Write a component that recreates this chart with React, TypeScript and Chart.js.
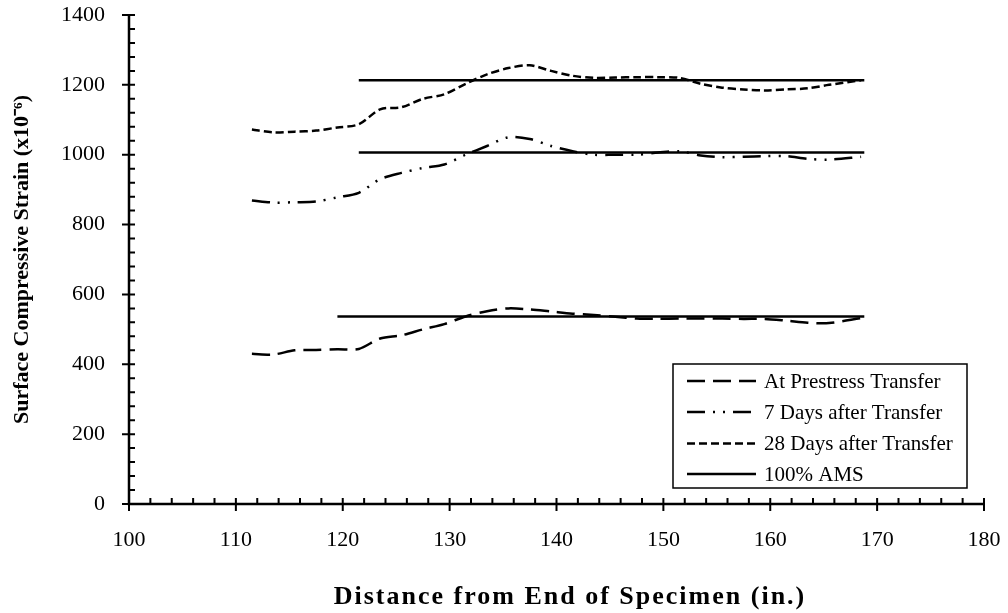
import { useEffect, useRef } from "react";
import { Chart, registerables } from "chart.js";

Chart.register(...registerables);

// Distance from end of specimen (in.)
const distance = [111.5, 113.5, 115.5, 117.5, 119.5, 121.5, 123.5, 125.5, 127.5, 129.5, 131.5, 133.5, 135.5, 137.5, 139.5, 141.5, 143.5, 145.5, 147.5, 149.5, 151.5, 153.5, 155.5, 157.5, 159.5, 161.5, 163.5, 165.5, 168.5];

// Surface compressive strain (x10^-6)
const atTransfer = [430, 428, 440, 441, 443, 444, 474, 483, 500, 515, 537, 552, 560, 557, 551, 545, 541, 536, 531, 530, 531, 531, 531, 530, 530, 525, 519, 518, 532];
const days7 = [869, 863, 864, 866, 878, 891, 930, 948, 962, 972, 1000, 1025, 1050, 1045, 1025, 1010, 1000, 1000, 1000, 1006, 1010, 998, 993, 994, 996, 996, 988, 986, 994];
const days28 = [1072, 1064, 1066, 1069, 1078, 1087, 1130, 1136, 1160, 1173, 1203, 1230, 1248, 1256, 1240, 1226, 1220, 1221, 1222, 1222, 1220, 1203, 1192, 1187, 1184, 1187, 1190, 1200, 1213];

// 100% AMS levels
const amsTransferX = [119.5, 168.8];
const amsLaterX = [121.5, 168.8];
const amsTransfer = 537;
const ams7 = 1006;
const ams28 = 1213;

const xTickValues = [100, 110, 120, 130, 140, 150, 160, 170, 180];
const yTickValues = [0, 200, 400, 600, 800, 1000, 1200, 1400];

const xTitle = "Distance from End of Specimen (in.)";
const yTitle = "Surface Compressive Strain (x10⁻⁶)";
const legendLabels = ["At Prestress Transfer", "7 Days after Transfer", "28 Days after Transfer", "100% AMS"];
const dashTransfer = [18, 8];
const dash7 = [18, 8, 2, 8, 2, 8];
const dash28 = [8, 4];
const dashSolid: number[] = [];
const legendDashes = [dashTransfer, dash7, dash28, dashSolid];

const SERIF = '"Liberation Serif", "Times New Roman", serif';

const axesPlugin = {
  id: "axesPlugin",
  afterDraw(chart: any) {
    const { ctx, chartArea: a, scales } = chart;
    const xs = scales.x;
    const ys = scales.y;
    ctx.save();
    ctx.strokeStyle = "#000";
    ctx.lineWidth = 2.5;
    ctx.setLineDash([]);
    ctx.beginPath();
    ctx.moveTo(a.left, a.top - 1);
    ctx.lineTo(a.left, a.bottom + 1.25);
    ctx.moveTo(a.left - 1.25, a.bottom);
    ctx.lineTo(a.right, a.bottom);
    ctx.stroke();

    ctx.lineWidth = 2;
    ctx.beginPath();
    for (const v of yTickValues) {
      const p = ys.getPixelForValue(v);
      ctx.moveTo(a.left - 7, p);
      ctx.lineTo(a.left + 6, p);
    }
    for (let v = 0; v <= 1400; v += 40) {
      if (v % 200 === 0) continue;
      const p = ys.getPixelForValue(v);
      ctx.moveTo(a.left, p);
      ctx.lineTo(a.left + 6, p);
    }
    for (const v of xTickValues) {
      const p = xs.getPixelForValue(v);
      ctx.moveTo(p, a.bottom - 6);
      ctx.lineTo(p, a.bottom + 7);
    }
    for (let v = 100; v <= 180; v += 2) {
      if (v % 10 === 0) continue;
      const p = xs.getPixelForValue(v);
      ctx.moveTo(p, a.bottom);
      ctx.lineTo(p, a.bottom - 6);
    }
    ctx.stroke();

    // x axis title
    ctx.fillStyle = "#000";
    ctx.font = `bold 26px ${SERIF}`;
    (ctx as any).letterSpacing = "2px";
    ctx.textAlign = "center";
    ctx.textBaseline = "middle";
    ctx.fillText(xTitle, 570, 597);
    (ctx as any).letterSpacing = "0px";

    // legend
    const bx = 673, by = 364, bw = 294, bh = 124;
    ctx.fillStyle = "#fff";
    ctx.fillRect(bx, by, bw, bh);
    ctx.lineWidth = 1.5;
    ctx.strokeRect(bx, by, bw, bh);
    const rows = [381, 412, 443.5, 474];
    ctx.font = `21px ${SERIF}`;
    ctx.textBaseline = "middle";
    ctx.textAlign = "left";
    ctx.fillStyle = "#000";
    legendLabels.forEach((lab, i) => {
      ctx.lineWidth = 2.5;
      ctx.setLineDash(legendDashes[i]);
      ctx.beginPath();
      ctx.moveTo(687, rows[i]);
      ctx.lineTo(756, rows[i]);
      ctx.stroke();
      ctx.setLineDash([]);
      ctx.fillText(lab, 764, rows[i] + 1);
    });
    ctx.restore();
  },
};

function pts(xv: number[], yv: number[]) {
  return xv.map((x, i) => ({ x, y: yv[i] }));
}

const hiddenGrid = (len: number) => ({
  display: true,
  drawOnChartArea: false,
  drawTicks: true,
  tickLength: len,
  color: "rgba(0,0,0,0)",
});

export default function App() {
  const ref = useRef<HTMLCanvasElement | null>(null);
  useEffect(() => {
    if (!ref.current) return;
    const lineBase = { borderColor: "#000", borderWidth: 2.5, pointRadius: 0, fill: false, tension: 0.3 };
    const chart = new Chart(ref.current, {
      type: "line",
      data: {
        datasets: [
          { ...lineBase, label: legendLabels[0], data: pts(distance, atTransfer), borderDash: dashTransfer },
          { ...lineBase, label: legendLabels[1], data: pts(distance, days7), borderDash: dash7 },
          { ...lineBase, label: legendLabels[2], data: pts(distance, days28), borderDash: dash28 },
          { ...lineBase, label: legendLabels[3], data: pts(amsTransferX, [amsTransfer, amsTransfer]), tension: 0 },
          { ...lineBase, label: legendLabels[3] + " 7", data: pts(amsLaterX, [ams7, ams7]), tension: 0 },
          { ...lineBase, label: legendLabels[3] + " 28", data: pts(amsLaterX, [ams28, ams28]), tension: 0 },
        ],
      },
      options: {
        animation: false,
        responsive: true,
        maintainAspectRatio: false,
        layout: { padding: { left: 0, right: 24, top: 15, bottom: 0 } },
        plugins: { legend: { display: false }, tooltip: { enabled: false } },
        scales: {
          x: {
            type: "linear",
            min: 100,
            max: 180,
            afterFit: (s: any) => { s.height = 109; },
            afterBuildTicks: (s: any) => { s.ticks = xTickValues.map((v) => ({ value: v })); },
            grid: hiddenGrid(23),
            border: { display: false },
            ticks: { color: "#000", padding: 0, maxRotation: 0, autoSkip: false, font: { family: SERIF, size: 22 }, callback: (v: any) => String(v) },
            title: { display: false },
          },
          y: {
            type: "linear",
            min: 0,
            max: 1400,
            afterFit: (s: any) => { s.width = 129; },
            afterBuildTicks: (s: any) => { s.ticks = yTickValues.map((v) => ({ value: v })); },
            grid: hiddenGrid(24),
            border: { display: false },
            ticks: { color: "#000", padding: 0, autoSkip: false, font: { family: SERIF, size: 22 }, callback: (v: any) => String(v) },
            title: { display: true, text: yTitle, color: "#000", padding: { top: 9, bottom: 0 }, font: { family: SERIF, size: 22, weight: "bold" } },
          },
        },
      },
      plugins: [axesPlugin],
    });
    return () => chart.destroy();
  }, []);
  return (
    <div style={{ position: "fixed", left: 0, top: 0, width: 1008, height: 613, background: "#fff" }}>
      <canvas ref={ref} />
    </div>
  );
}
